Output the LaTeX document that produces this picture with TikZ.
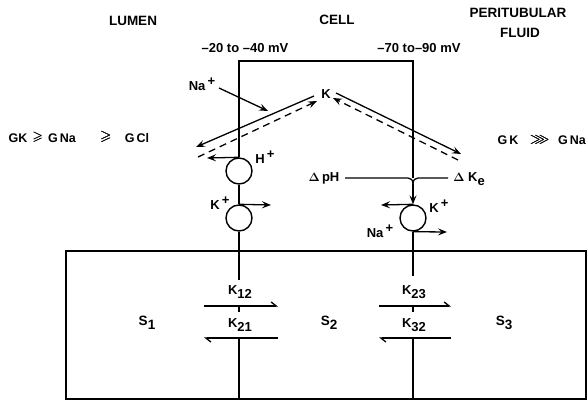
\documentclass[tikz,border=0pt]{standalone}
\usepackage{amsmath,amssymb}
\usepackage{fontspec}
\setmainfont{Liberation Sans}
\usetikzlibrary{arrows.meta}
\begin{document}
\begin{tikzpicture}[x=1pt,y=-1pt,
  every node/.style={inner sep=0pt,font=\fontsize{13}{14}\selectfont\bfseries},
  hdr/.style={font=\fontsize{13.5}{15}\selectfont\bfseries},
  lbl/.style={font=\fontsize{13}{14}\selectfont\bfseries},
  glbl/.style={font=\fontsize{12.5}{14}\selectfont\bfseries},
  ln/.style={line width=1.3pt},
  boxln/.style={line width=1.8pt},
  arr/.style={line width=1.3pt,-{Stealth[length=9pt,width=7pt,inset=3.5pt]}},
  harp/.style={line width=1.3pt,-{Straight Barb[length=5pt,width=8pt,harpoon,left]}},
  pump/.style={circle,draw,line width=1.4pt,minimum size=26pt,inner sep=0pt},
  dsh/.style={line width=1.3pt,dash pattern=on 7pt off 5pt}]
\useasboundingbox (0,0) rectangle (588,401);
% headers
\node[hdr] (lumen) at (133,21) {LUMEN};
\node[hdr] (cell) at (337,20) {CELL};
\node[hdr] (peri) at (518,13) {PERITUBULAR};
\node[hdr] (fluid) at (520,33) {FLUID};
\node[lbl] (mvl) at (245,48) {\textendash 20 to \textendash 40 mV};
\node[lbl] (mvr) at (419,48) {\textendash 70 to\textendash 90 mV};
% conductance relations
\node[glbl] (gk1) at (18,138) {GK};
\node (s1) at (38,137) {\pmb{$\geqslant$}};
\node[glbl] (gna1) at (62,138) {G\,Na};
\node (s2) at (106,137) {\Large\pmb{$\geqslant$}};
\node[glbl] (gcl) at (137,138) {G\,Cl};
\node[glbl] (gk2) at (508,140) {G\,K};
\node (s3) at (540,140) {\Large\pmb{$\ggg$}};
\node[glbl] (gna2) at (572,140) {G\,Na};
% cell outline
\coordinate (tl) at (239,61);
\coordinate (tr) at (413,61);
\node[pump] (hp) at (239,171) {};
\node[pump] (kp) at (239,218) {};
\node[pump] (nap) at (413,218) {};
\draw[ln] (hp.north) -- (tl) -- (tr) -- (413,178);
\draw[ln] (hp.south) -- (kp.north);
% big box
\coordinate (b1) at (66,251);
\coordinate (b2) at (586,399);
\draw[boxln] (b1) rectangle (b2);
% left membrane lower
\coordinate (l1) at (239,280);
\coordinate (l2) at (239,338);
\coordinate (lb) at (239,399);
\draw[ln] (kp.south) -- (l1);
\draw[ln] (239,306) -- (239,312);
\draw[ln] (l2) -- (lb);
% right membrane lower
\coordinate (r1) at (413,276);
\coordinate (r2) at (413,338);
\coordinate (rb) at (413,399);
\draw[ln] (nap.south) -- (r1);
\draw[ln] (413,306) -- (413,312);
\draw[ln] (r2) -- (rb);
% rate arrows
\coordinate (a12s) at (204,306); \coordinate (a12e) at (278,306);
\coordinate (a21s) at (278,338); \coordinate (a21e) at (204,338);
\coordinate (a23s) at (379,306); \coordinate (a23e) at (451,306);
\coordinate (a32s) at (451,338); \coordinate (a32e) at (379,338);
\draw[harp] (a12s) -- (a12e);
\draw[harp] (a21s) -- (a21e);
\draw[harp] (a23s) -- (a23e);
\draw[harp] (a32s) -- (a32e);
\node[lbl] (k12) at (240,292) {K\raisebox{-3.5pt}{12}};
\node[lbl] (k21) at (240,325) {K\raisebox{-3.5pt}{21}};
\node[lbl] (k23) at (414,292) {K\raisebox{-3.5pt}{23}};
\node[lbl] (k32) at (414,325) {K\raisebox{-3.5pt}{32}};
\node[hdr] (S1) at (147,323) {S\raisebox{-3.5pt}{1}};
\node[hdr] (S2) at (329,323) {S\raisebox{-3.5pt}{2}};
\node[hdr] (S3) at (504,323) {S\raisebox{-3.5pt}{3}};
% pumps
\coordinate (hend) at (207,158);
\draw[arr] (hp.north) -- (hend);
\node[lbl] (hlab) at (265,157) {H\,\raisebox{5pt}{+}};
\coordinate (kend) at (271,205);
\draw[arr] (kp.north) -- (kend);
\node[lbl] (klab) at (220,203) {K\,\raisebox{5pt}{+}};
\coordinate (kend2) at (381,205);
\draw[arr] (nap.north) -- (kend2);
\node[lbl] (klab2) at (439,206) {K\,\raisebox{5pt}{+}};
\coordinate (naend) at (447,232);
\draw[arr] (nap.south) -- (naend);
\node[lbl] (nalab2) at (380,231) {Na\,\raisebox{5pt}{+}};
% K fluxes
\node[lbl] (K) at (326,94) {K};
\coordinate (ls) at (314,96); \coordinate (le) at (196,147);
\draw[arr] (ls) -- (le);
\coordinate (lds) at (198,157); \coordinate (lde) at (317,101);
\draw[dsh,-{Stealth[length=9pt,width=7pt,inset=3.5pt]}] (lds) -- (lde);
\coordinate (rs) at (336,93); \coordinate (re) at (461,154);
\draw[arr] (rs) -- (re);
\coordinate (rds) at (458,160); \coordinate (rde) at (333,98);
\draw[dsh,-{Stealth[length=9pt,width=7pt,inset=3.5pt]}] (rds) -- (rde);
% Na entry
\node[lbl] (nalab) at (202,84) {Na\,\raisebox{5pt}{+}};
\coordinate (nas) at (219,88); \coordinate (nae) at (268,111);
\draw[arr] (nas) -- (nae);
% pH / Ke
\node[lbl] (dph) at (324,178) {$\boldsymbol{\Delta}$\,pH};
\node[lbl] (dke) at (469,179) {$\boldsymbol{\Delta}$ K\raisebox{-3.5pt}{e}};
\coordinate (hl) at (345,178); \coordinate (hr) at (448,178);
\coordinate (cusp) at (413,184);
\draw[ln] (hl) -- (408,178) .. controls (411,178) and (413,180) .. (cusp);
\draw[ln] (hr) -- (418,178) .. controls (415,178) and (413,180) .. (cusp);
\draw[arr] (cusp) -- (nap.north);
\end{tikzpicture}
\end{document}
